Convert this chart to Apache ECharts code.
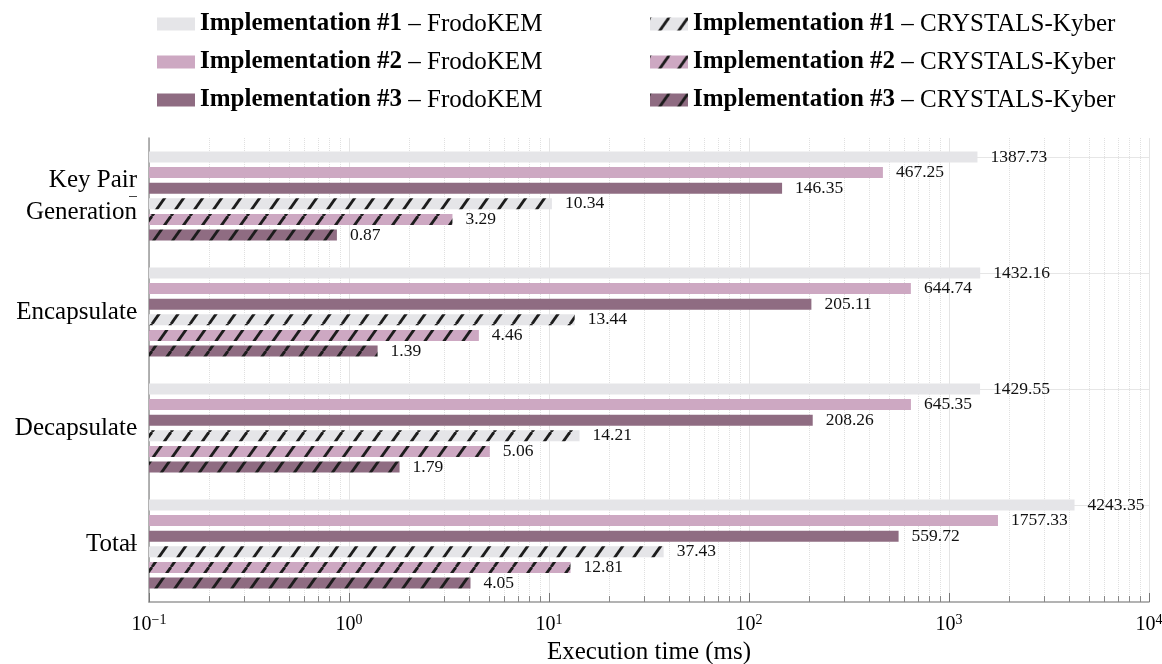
<!DOCTYPE html>
<html>
<head>
<meta charset="utf-8">
<script src="https://cdn.jsdelivr.net/npm/echarts@6/dist/echarts.min.js"></script>
<style>
  html, body { margin: 0; padding: 0; background: #ffffff; }
  #chart { width: 1162px; height: 664px; }
</style>
</head>
<body>
<div id="chart"></div>
<script>
// Operations measured, listed top to bottom
const categories = ['Key Pair\nGeneration', 'Encapsulate', 'Decapsulate', 'Total'];

// Execution time in ms, one value per operation
const frodoImpl1 = [1387.73, 1432.16, 1429.55, 4243.35];
const frodoImpl2 = [467.25, 644.74, 645.35, 1757.33];
const frodoImpl3 = [146.35, 205.11, 208.26, 559.72];
const kyberImpl1 = [10.34, 13.44, 14.21, 37.43];
const kyberImpl2 = [3.29, 4.46, 5.06, 12.81];
const kyberImpl3 = [0.87, 1.39, 1.79, 4.05];

const seriesNames = [
  'Implementation #1 – FrodoKEM',
  'Implementation #2 – FrodoKEM',
  'Implementation #3 – FrodoKEM',
  'Implementation #1 – CRYSTALS-Kyber',
  'Implementation #2 – CRYSTALS-Kyber',
  'Implementation #3 – CRYSTALS-Kyber'
];

// Decade ticks of the log axis and the 2..9 subdivisions between them
const decadeTicks = [0.1, 1, 10, 100, 1000, 10000];
const minorTicks = [];
decadeTicks.slice(0, -1).forEach(d => {
  for (let k = 2; k <= 9; k++) minorTicks.push(+(d * k).toPrecision(3));
});

const FONT = '"Liberation Serif", "DejaVu Serif", "Times New Roman", serif';
const palette = ['#e5e5e8', '#cda8c2', '#8f6c82'];

// Diagonal black hatching over a base fill
function hatch(base) {
  const w = 19, h = 27;
  const c = document.createElement('canvas');
  c.width = w; c.height = h;
  const g = c.getContext('2d');
  g.fillStyle = base;
  g.fillRect(0, 0, w, h);
  g.strokeStyle = '#1c1c1c';
  g.lineWidth = 2.8;
  for (const dx of [-w, 0, w]) {
    g.beginPath();
    g.moveTo(dx, h);
    g.lineTo(dx + w, 0);
    g.stroke();
  }
  return { image: c, repeat: 'repeat' };
}

const seriesData = [frodoImpl1, frodoImpl2, frodoImpl3, kyberImpl1, kyberImpl2, kyberImpl3];
const fills = [palette[0], palette[1], palette[2], hatch(palette[0]), hatch(palette[1]), hatch(palette[2])];

const series = seriesData.map((data, i) => ({
  name: seriesNames[i],
  type: 'bar',
  xAxisIndex: 0,
  yAxisIndex: 0,
  data: data,
  barWidth: 11,
  barGap: '42%',
  itemStyle: { color: fills[i] },
  label: {
    show: true,
    position: 'right',
    distance: 13,
    fontFamily: FONT,
    fontSize: 17.5,
    color: '#111',
    formatter: p => p.value.toFixed(2)
  }
}));

// Horizontal grid lines through each operation's centre
series[0].markLine = {
  silent: true,
  symbol: ['none', 'none'],
  label: { show: false },
  lineStyle: { color: '#e6e6e6', width: 1, type: 'solid' },
  z: 0,
  data: categories.map(c => ({ yAxis: c }))
};

function powerLabel(v) {
  const e = Math.round(Math.log10(v));
  const s = e < 0 ? '−' + Math.abs(e) : String(e);
  return '{b|10}{s|' + s + '}';
}

function legendLabel(name) {
  const parts = name.split(' – ');
  return '{b|' + parts[0] + '}{n| – ' + parts[1] + '}';
}

const legendText = {
  fontFamily: FONT,
  fontSize: 25,
  color: '#000',
  lineHeight: 28,
  rich: {
    b: { fontFamily: FONT, fontSize: 25, fontWeight: 'bold', color: '#000', lineHeight: 28 },
    n: { fontFamily: FONT, fontSize: 25, color: '#000', lineHeight: 28 }
  }
};

const chart = echarts.init(document.getElementById('chart'), null, { renderer: 'canvas' });

chart.setOption({
  animation: false,
  backgroundColor: '#ffffff',
  grid: { left: 149, right: 13, top: 138, bottom: 62, containLabel: false, outerBoundsMode: 'none' },
  legend: [
    {
      data: seriesNames.slice(0, 3),
      orient: 'vertical', left: 157, top: 10, padding: 0,
      itemWidth: 38, itemHeight: 13, itemGap: 10,
      icon: 'rect', selectedMode: false,
      formatter: legendLabel, textStyle: legendText
    },
    {
      data: seriesNames.slice(3),
      orient: 'vertical', left: 650, top: 10, padding: 0,
      itemWidth: 38, itemHeight: 13, itemGap: 10,
      icon: 'rect', selectedMode: false,
      formatter: legendLabel, textStyle: legendText
    }
  ],
  xAxis: [
    {
      type: 'log', logBase: 10, min: 0.1, max: 10000, startValue: 0.1,
      position: 'bottom',
      name: 'Execution time (ms)',
      nameLocation: 'middle', nameGap: 38,
      nameTextStyle: { fontFamily: FONT, fontSize: 25, color: '#000' },
      axisLine: { show: true, lineStyle: { color: '#9a9a9a', width: 1.5 } },
      axisTick: { show: true, inside: true, length: 9, lineStyle: { color: '#777', width: 1 } },
      axisLabel: {
        margin: 11,
        formatter: powerLabel,
        rich: {
          b: { fontFamily: FONT, fontSize: 20, color: '#000', lineHeight: 24 },
          s: { fontFamily: FONT, fontSize: 14, color: '#000', lineHeight: 14, verticalAlign: 'top' }
        }
      },
      splitLine: { show: true, lineStyle: { color: '#e4e4e4', width: 1, type: 'solid' } }
    },
    {
      type: 'log', logBase: 10, min: 0.1, max: 10000,
      position: 'bottom',
      axisLine: { show: false },
      axisLabel: { show: false },
      axisTick: { show: true, inside: true, length: 6, customValues: minorTicks, lineStyle: { color: '#888', width: 1 } },
      splitLine: { show: true, lineStyle: { color: '#e0e0e0', width: 1, type: 'dotted' } }
    }
  ],
  yAxis: [
    {
      type: 'category', data: categories, inverse: true,
      position: 'left', offset: 12,
      axisLine: { show: false },
      axisTick: { show: true, alignWithLabel: true, length: 8, lineStyle: { color: '#444', width: 1 } },
      axisLabel: { margin: 0, fontFamily: FONT, fontSize: 25, lineHeight: 32, color: '#000' },
      splitLine: { show: false }
    },
    {
      type: 'category', data: categories, inverse: true,
      position: 'left', offset: 0,
      axisLine: { show: true, lineStyle: { color: '#9a9a9a', width: 1.5 } },
      axisTick: { show: false },
      axisLabel: { show: false },
      splitLine: { show: false }
    }
  ],
  series: series
});
</script>
</body>
</html>
